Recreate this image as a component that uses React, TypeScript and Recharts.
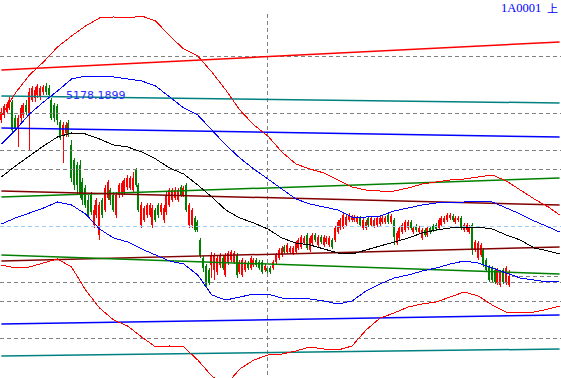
import React from 'react'
import { Bar, ComposedChart, Line, ReferenceLine, XAxis, YAxis } from 'recharts'

// daily candles (price units)
const opens = [
  4808, 4858, 4888, 4928, 4988, 4828, 4728, 4828, 4858, 4958,
  4858, 5008, 5028, 5058, 5048, 5088, 5148, 5128, 5008, 4958,
  4948, 4788, 4658, 4678, 4778, 4558, 4408, 4358, 4358, 4188,
  4128, 4008, 4058, 3758, 3858, 3658, 4008, 3908, 4028, 4108,
  4058, 3858, 4058, 4058, 4088, 4138, 4128, 4108, 4308, 4158,
  3758, 3808, 3858, 3858, 3758, 3908, 3958, 3888, 3808, 3888,
  3958, 4008, 4028, 4008, 4138, 4058, 4158, 3758, 3758, 3828,
  3788, 3608, 3428, 3348, 3308, 3358, 3308, 3288, 3358, 3428,
  3258, 3388, 3408, 3388, 3458, 3288, 3258, 3308, 3378, 3328,
  3358, 3408, 3388, 3388, 3308, 3328, 3328, 3328, 3388, 3428,
  3458, 3538, 3488, 3488, 3478, 3488, 3528, 3538, 3578, 3658,
  3508, 3578, 3658, 3558, 3638, 3558, 3588, 3558, 3608, 3608,
  3688, 3728, 3738, 3758, 3808, 3808, 3808, 3788, 3828, 3728,
  3728, 3828, 3758, 3748, 3758, 3768, 3788, 3788, 3858, 3788,
  3808, 3578, 3628, 3688, 3708, 3728, 3788, 3688, 3748, 3688,
  3628, 3708, 3658, 3728, 3748, 3758, 3728, 3758, 3788, 3808,
  3828, 3848, 3788, 3808, 3828, 3708, 3708, 3688, 3758, 3508,
  3428, 3458, 3508, 3408, 3338, 3328, 3308, 3178, 3158, 3308,
  3178, 3158,
]
const highs = [
  4928, 4968, 4988, 5038, 5008, 4858, 4858, 4958, 4978, 5008,
  5128, 5148, 5138, 5168, 5148, 5158, 5178.19, 5158, 5028, 4978,
  4968, 4808, 4788, 4788, 4808, 4608, 4428, 4388, 4408, 4228,
  4158, 4058, 4088, 3958, 4028, 3988, 4028, 4158, 4208, 4128,
  4088, 4088, 4178, 4198, 4228, 4258, 4248, 4288, 4328, 4178,
  3988, 3948, 3978, 3978, 3958, 3928, 3978, 3978, 3958, 4088,
  4128, 4128, 4138, 4128, 4158, 4148, 4178, 3978, 3928, 3848,
  3808, 3628, 3448, 3368, 3328, 3488, 3478, 3448, 3478, 3448,
  3478, 3498, 3508, 3498, 3478, 3408, 3428, 3408, 3398, 3448,
  3428, 3428, 3408, 3408, 3368, 3348, 3348, 3408, 3478, 3528,
  3548, 3558, 3578, 3548, 3548, 3598, 3628, 3658, 3648, 3678,
  3648, 3678, 3678, 3658, 3658, 3658, 3648, 3648, 3628, 3748,
  3808, 3828, 3878, 3858, 3878, 3858, 3858, 3848, 3848, 3828,
  3808, 3848, 3848, 3828, 3848, 3848, 3848, 3848, 3878, 3868,
  3828, 3698, 3748, 3778, 3808, 3808, 3808, 3748, 3768, 3748,
  3728, 3728, 3748, 3748, 3768, 3778, 3828, 3848, 3848, 3878,
  3878, 3868, 3848, 3848, 3848, 3778, 3778, 3758, 3778, 3608,
  3598, 3578, 3528, 3428, 3358, 3348, 3328, 3328, 3308, 3328,
  3348, 3308,
]
const lows = [
  4778, 4828, 4868, 4908, 4688, 4708, 4538, 4788, 4828, 4858,
  4508, 4988, 4988, 5028, 5008, 5058, 5058, 5038, 4808, 4788,
  4758, 4608, 4378, 4638, 4638, 4188, 4108, 4058, 4028, 3958,
  3928, 3828, 3858, 3728, 3828, 3608, 3828, 3888, 4008, 3958,
  3888, 3828, 4028, 4038, 4058, 4108, 4108, 4088, 4138, 3888,
  3728, 3788, 3828, 3838, 3728, 3788, 3828, 3858, 3778, 3858,
  3938, 3988, 4008, 3988, 4038, 4038, 3888, 3728, 3728, 3688,
  3688, 3428, 3288, 3138, 3158, 3228, 3208, 3258, 3328, 3308,
  3238, 3358, 3388, 3368, 3228, 3268, 3238, 3288, 3308, 3308,
  3338, 3338, 3308, 3268, 3288, 3278, 3268, 3308, 3368, 3408,
  3438, 3468, 3468, 3468, 3458, 3468, 3508, 3518, 3558, 3508,
  3488, 3558, 3588, 3538, 3568, 3538, 3568, 3538, 3518, 3588,
  3668, 3708, 3718, 3738, 3788, 3788, 3788, 3768, 3738, 3708,
  3708, 3738, 3738, 3728, 3738, 3748, 3768, 3768, 3768, 3768,
  3558, 3558, 3608, 3668, 3688, 3708, 3708, 3668, 3688, 3668,
  3608, 3638, 3638, 3668, 3688, 3698, 3708, 3738, 3768, 3788,
  3808, 3788, 3768, 3788, 3708, 3688, 3688, 3668, 3458, 3488,
  3408, 3438, 3338, 3288, 3188, 3188, 3168, 3158, 3138, 3168,
  3158, 3138,
]
const closes = [
  4888, 4948, 4968, 5008, 4708, 4728, 4828, 4928, 4958, 4888,
  5088, 5128, 5108, 5148, 5128, 5138, 5088, 5058, 4828, 4828,
  4808, 4628, 4758, 4758, 4658, 4228, 4158, 4158, 4058, 4008,
  3958, 3858, 3888, 3908, 4008, 3958, 3858, 4128, 4188, 4008,
  3908, 4058, 4158, 4178, 4208, 4228, 4228, 4228, 4158, 3908,
  3958, 3928, 3958, 3958, 3928, 3808, 3858, 3958, 3928, 4058,
  4108, 4108, 4108, 4108, 4058, 4128, 3908, 3958, 3908, 3708,
  3708, 3448, 3328, 3158, 3178, 3458, 3458, 3428, 3458, 3328,
  3458, 3478, 3488, 3478, 3258, 3388, 3408, 3388, 3328, 3428,
  3408, 3358, 3328, 3288, 3348, 3298, 3288, 3388, 3458, 3508,
  3528, 3488, 3558, 3528, 3528, 3578, 3608, 3638, 3628, 3528,
  3628, 3658, 3608, 3638, 3588, 3638, 3628, 3628, 3538, 3728,
  3788, 3808, 3858, 3838, 3858, 3838, 3838, 3828, 3758, 3808,
  3788, 3758, 3828, 3808, 3828, 3828, 3828, 3828, 3788, 3848,
  3638, 3678, 3728, 3758, 3788, 3788, 3728, 3728, 3708, 3728,
  3708, 3658, 3728, 3688, 3708, 3718, 3808, 3828, 3828, 3858,
  3858, 3808, 3828, 3828, 3728, 3758, 3758, 3738, 3508, 3588,
  3578, 3558, 3358, 3308, 3208, 3208, 3188, 3308, 3288, 3188,
  3328, 3248,
]

// band lines, sampled every 5th slot (last one at slot 199)
const bandSlots = [
  0, 5, 10, 15, 20, 25, 30, 35, 40, 45, 50, 55, 60, 65, 70, 75, 80, 85, 90, 95,
  100, 105, 110, 115, 120, 125, 130, 135, 140, 145, 150, 155, 160, 165, 170, 175,
  180, 185, 190, 195, 199,
]
const upperOuter = [
  4848, 5078, 5258, 5388, 5538, 5648, 5748, 5828, 5838, 5828, 5848, 5798, 5648, 5518,
  5448, 5288, 5108, 4908, 4758, 4648, 4488, 4368, 4318, 4278, 4208, 4138, 4108, 4098,
  4098, 4128, 4168, 4188, 4208, 4218, 4238, 4258, 4198, 4108, 4018, 3938, 3858,
]
const upperInner = [
  4568, 4708, 4868, 4988, 5098, 5218, 5248, 5248, 5238, 5218, 5198, 5148, 5038, 4928,
  4858, 4708, 4558, 4428, 4318, 4218, 4118, 4018, 3968, 3938, 3908, 3838, 3838, 3848,
  3898, 3928, 3958, 3978, 3988, 3988, 3998, 3988, 3928, 3868, 3798, 3738, 3688,
]
const middle = [
  4238, 4348, 4448, 4548, 4638, 4678, 4668, 4618, 4558, 4538, 4488, 4418, 4328, 4268,
  4158, 4038, 3908, 3828, 3778, 3718, 3628, 3578, 3558, 3518, 3478, 3468, 3508, 3548,
  3588, 3628, 3678, 3708, 3728, 3738, 3738, 3718, 3658, 3608, 3528, 3498, 3468,
]
const lowerInner = [
  3768, 3828, 3878, 3928, 3988, 3958, 3868, 3718, 3628, 3588, 3518, 3458, 3398, 3368,
  3258, 3058, 3008, 3038, 3068, 3068, 3028, 3028, 3018, 2998, 2968, 2998, 3098, 3168,
  3228, 3258, 3298, 3328, 3368, 3398, 3378, 3328, 3278, 3228, 3208, 3188, 3198,
]
const lowerOuter = [
  3358, 3328, 3338, 3378, 3418, 3338, 3108, 2928, 2808, 2748, 2638, 2538, 2548, 2538,
  2408, 2248, 2158, 2318, 2408, 2458, 2468, 2498, 2538, 2518, 2508, 2548, 2708, 2828,
  2878, 2938, 2968, 2988, 3038, 3088, 3048, 2958, 2888, 2888, 2888, 2918, 2948,
]

// straight trend lines: value at the first and the last slot
const trendStart = [5308, 5048, 4728, 4038, 4098, 3398, 3458, 2768, 2448]
const trendEnd = [5588, 4978, 4638, 4228, 3958, 3538, 3268, 2858, 2518]
const trendColors = ['#ff0000', '#008080', '#0000ff', '#008000', '#800000', '#800000', '#008000', '#0000ff', '#008080']

const gridLevels = [5448, 4878, 4508, 4318, 3188, 2998, 2628]
const lastLevel = 3248
const markLevel = 3748
const splitSlot = 95
const slotCount = 200

const slots = Array.from({ length: slotCount }, (_, i) => i)

const rows = slots.map((i) => {
  const row: any = { slot: i }
  if (i < opens.length) {
    row.o = opens[i]
    row.h = highs[i]
    row.l = lows[i]
    row.c = closes[i]
  }
  const k = bandSlots.indexOf(i)
  if (k >= 0) {
    row.uo = upperOuter[k]
    row.ui = upperInner[k]
    row.mid = middle[k]
    row.li = lowerInner[k]
    row.lo = lowerOuter[k]
  }
  return row
})

const Candle = (props: any) => {
  const { x, y, width, height, payload } = props
  if (!payload || payload.o == null || !height) return null
  const { o, h, l, c } = payload
  const top = Math.min(y, y + height)
  const span = Math.abs(height)
  const k = span / (h - l)
  const bodyTop = top + (h - Math.max(o, c)) * k
  const bodyH = Math.max(1, Math.abs(o - c) * k)
  const color = c >= o ? '#ff0000' : '#008000'
  const left = Math.round(x + width / 2 - 1)
  return (
    <g shapeRendering='crispEdges'>
      <rect x={left + 1} y={top} width={1} height={span} fill={color} />
      <rect x={left} y={bodyTop} width={2} height={bodyH} fill={color} />
    </g>
  )
}

const bandLine = (key: string, color: string) => (
  <Line
    dataKey={key}
    stroke={color}
    dot={false}
    activeDot={false}
    connectNulls
    shapeRendering='crispEdges'
    isAnimationActive={false}
  />
)

const App: React.FC = () => {
  return (
    <div style={{ position: 'absolute', left: 0, top: 0, width: 561, height: 378, background: '#fff' }}>
      <ComposedChart width={561} height={378} data={rows} margin={{ top: 0, right: 0, bottom: 0, left: 0 }}>
        <XAxis dataKey='slot' type='category' hide />
        <YAxis type='number' domain={[2228, 6008]} allowDataOverflow hide />
        {gridLevels.map((v) => (
          <ReferenceLine key={'g' + v} y={v} stroke='#808080' strokeDasharray='4 3' shapeRendering='crispEdges' />
        ))}
        <ReferenceLine y={markLevel} stroke='#a0cdf5' strokeDasharray='4 3' shapeRendering='crispEdges' />
        <ReferenceLine
          segment={[{ x: 182, y: lastLevel }, { x: slotCount - 1, y: lastLevel }]}
          stroke='#808080'
          strokeDasharray='4 3'
          shapeRendering='crispEdges'
        />
        <ReferenceLine
          segment={[{ x: splitSlot, y: 5868 }, { x: splitSlot, y: 2228 }]}
          stroke='#808080'
          strokeDasharray='4 3'
          shapeRendering='crispEdges'
        />
        {trendStart.map((v, i) => (
          <ReferenceLine
            key={'t' + i}
            segment={[{ x: 0, y: v }, { x: slotCount - 1, y: trendEnd[i] }]}
            stroke={trendColors[i]}
            strokeWidth={1.5}
          />
        ))}
        <Bar
          dataKey={(d: any) => (d.h == null ? null : [d.l, d.h])}
          barSize={2}
          shape={<Candle />}
          isAnimationActive={false}
        />
        {bandLine('uo', '#ff0000')}
        {bandLine('ui', '#0000ff')}
        {bandLine('mid', '#000000')}
        {bandLine('li', '#0000ff')}
        {bandLine('lo', '#ff0000')}
      </ComposedChart>
      <svg width={561} height={378} style={{ position: 'absolute', left: 0, top: 0, pointerEvents: 'none' }}>
        <text x={66} y={98.5} fontFamily='DejaVu Sans' fontSize={11} fill='#2a2aff'>
          5178.1899
        </text>
        <text x={501} y={12} fontFamily='Liberation Serif' fontSize={12.5} fill='#0000ff'>
          1A0001
        </text>
        <text x={547} y={13} fontFamily='Noto Sans CJK SC' fontSize={11} fill='#0000ff'>
          上
        </text>
      </svg>
    </div>
  )
}

export default App
